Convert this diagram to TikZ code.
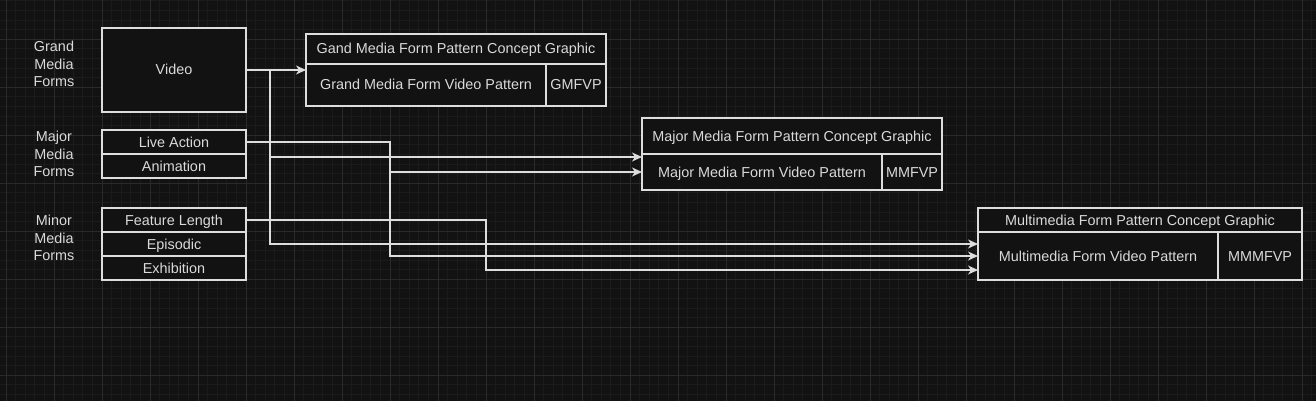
\documentclass[tikz,border=0pt]{standalone}
\usepackage{fontspec}
\setmainfont{Liberation Sans}
\usetikzlibrary{positioning,arrows.meta}
\definecolor{canvas}{HTML}{121212}
\definecolor{minorgrid}{HTML}{1B1B1B}
\definecolor{majorgrid}{HTML}{2A2A2A}
\definecolor{edge}{HTML}{DDDDDD}
\definecolor{ink}{HTML}{DADADA}
\begin{document}
\begin{tikzpicture}[x=1pt,y=-1pt,
  font=\fontsize{14.4}{17.5}\selectfont,
  cell/.style={draw=edge,fill=canvas,line width=1.2pt,text=ink,inner sep=0pt,
    outer sep=0pt,minimum width=144pt,minimum height=24pt,
    text height=13pt,text depth=3pt},
  group/.style={text=ink,align=center},
  link/.style={draw=edge,line width=1.2pt,-{Stealth[length=10pt,width=9pt,inset=3pt]}}]
\useasboundingbox (0,0) rectangle (1316,401);
\fill[canvas] (0,0) rectangle (1316,401);
\foreach \i in {0,...,136}
  \draw[minorgrid,line width=1pt] ({6+9.6*\i},0) -- ({6+9.6*\i},401);
\foreach \i in {0,...,41}
  \draw[minorgrid,line width=1pt] (0,{0.9+9.6*\i}) -- (1316,{0.9+9.6*\i});
\foreach \i in {0,...,27}
  \draw[majorgrid,line width=1pt] ({6+48*\i},0) -- ({6+48*\i},401);
\foreach \i in {1,...,8}
  \draw[majorgrid,line width=1pt] (0,{-8.7+48*\i}) -- (1316,{-8.7+48*\i});

\node[group] (grandlbl) at (54,64) {Grand\\Media\\Forms};
\node[group] (majorlbl) at (54,154) {Major\\Media\\Forms};
\node[group] (minorlbl) at (54,238) {Minor\\Media\\Forms};

\node[cell,anchor=north west,minimum height=84pt] (video) at (102,28) {Video};
\node[cell,anchor=north west] (live) at (102,130) {Live Action};
\node[cell,below=0pt of live] (anim) {Animation};
\node[cell,anchor=north west] (feature) at (102,208) {Feature Length};
\node[cell,below=0pt of feature] (episodic) {Episodic};
\node[cell,below=0pt of episodic] (exhibit) {Exhibition};

\node[cell,anchor=north west,minimum width=300pt,minimum height=30pt] (gmfhead) at (306,34) {Gand Media Form Pattern Concept Graphic};
\node[cell,anchor=north west,minimum width=240pt,minimum height=42pt] (gmfname) at (gmfhead.south west) {Grand Media Form Video Pattern};
\node[cell,right=0pt of gmfname,minimum width=60pt,minimum height=42pt] (gmfcode) {GMFVP};

\node[cell,anchor=north west,minimum width=300pt,minimum height=36pt] (mmfhead) at (642,118) {Major Media Form Pattern Concept Graphic};
\node[cell,anchor=north west,minimum width=240pt,minimum height=36pt] (mmfname) at (mmfhead.south west) {Major Media Form Video Pattern};
\node[cell,right=0pt of mmfname,minimum width=60pt,minimum height=36pt] (mmfcode) {MMFVP};

\node[cell,anchor=north west,minimum width=324pt,minimum height=24pt] (multihead) at (978,208) {Multimedia Form Pattern Concept Graphic};
\node[cell,anchor=north west,minimum width=240pt,minimum height=48pt] (multiname) at (multihead.south west) {Multimedia Form Video Pattern};
\node[cell,right=0pt of multiname,minimum width=84pt,minimum height=48pt] (multicode) {MMMFVP};

\coordinate (vsplit) at (270,70);
\coordinate (lsplit) at (390,142);
\coordinate (fsplit) at (486,220);

\draw[link] (video.east) -- (video.east -| gmfname.west);
\draw[link] (vsplit) |- ([yshift=15pt]mmfname.west);
\draw[link] (vsplit) |- ([yshift=12pt]multiname.west);
\draw[link] (live.east) -- (lsplit) |- (mmfname.west);
\draw[link] (lsplit) |- (multiname.west);
\draw[link] (feature.east) -- (fsplit) |- ([yshift=-14pt]multiname.west);
\end{tikzpicture}
\end{document}
